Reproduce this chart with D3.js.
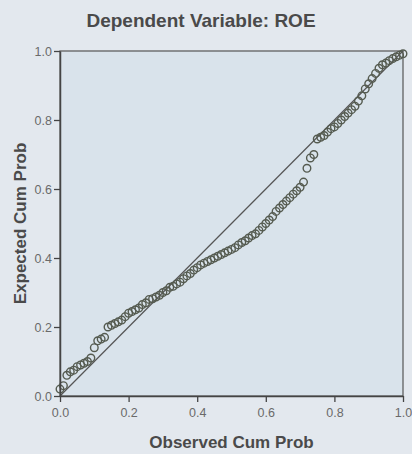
<!DOCTYPE html>
<html>
<head>
<meta charset="utf-8">
<script src="https://cdn.jsdelivr.net/npm/d3@7"></script>
<style>
    body { margin: 0; background: #e3e8ee; }
    svg { display: block; font-family: "Liberation Sans", Arial, sans-serif; }
</style>
</head>
<body>
<svg id="chart" width="412" height="454"></svg>
<script>
// P-P plot data
const observed = [
    0.00, 0.01, 0.02, 0.03, 0.04, 0.05, 0.06, 0.07, 0.08, 0.09,
    0.10, 0.11, 0.12, 0.13, 0.14, 0.15, 0.16, 0.17, 0.18, 0.19,
    0.20, 0.21, 0.22, 0.23, 0.24, 0.25, 0.26, 0.27, 0.28, 0.29,
    0.30, 0.31, 0.32, 0.33, 0.34, 0.35, 0.36, 0.37, 0.38, 0.39,
    0.40, 0.41, 0.42, 0.43, 0.44, 0.45, 0.46, 0.47, 0.48, 0.49,
    0.50, 0.51, 0.52, 0.53, 0.54, 0.55, 0.56, 0.57, 0.58, 0.59,
    0.60, 0.61, 0.62, 0.63, 0.64, 0.65, 0.66, 0.67, 0.68, 0.69,
    0.70, 0.71, 0.72, 0.73, 0.74, 0.75, 0.76, 0.77, 0.78, 0.79,
    0.80, 0.81, 0.82, 0.83, 0.84, 0.85, 0.86, 0.87, 0.88, 0.89,
    0.90, 0.91, 0.92, 0.93, 0.94, 0.95, 0.96, 0.97, 0.98, 0.99,
    1.00
];
const expected = [
    0.020, 0.030, 0.060, 0.070, 0.075, 0.085, 0.090, 0.095, 0.100, 0.110,
    0.140, 0.160, 0.165, 0.170, 0.200, 0.205, 0.210, 0.215, 0.220, 0.230,
    0.240, 0.245, 0.250, 0.255, 0.265, 0.270, 0.280, 0.282, 0.287, 0.292,
    0.300, 0.305, 0.315, 0.318, 0.325, 0.330, 0.340, 0.348, 0.355, 0.365,
    0.372, 0.380, 0.385, 0.390, 0.395, 0.400, 0.405, 0.410, 0.415, 0.420,
    0.425, 0.430, 0.438, 0.445, 0.450, 0.458, 0.465, 0.470, 0.480, 0.490,
    0.500, 0.510, 0.520, 0.535, 0.545, 0.555, 0.565, 0.575, 0.585, 0.595,
    0.605, 0.620, 0.660, 0.690, 0.700, 0.745, 0.750, 0.755, 0.765, 0.775,
    0.780, 0.790, 0.800, 0.810, 0.820, 0.830, 0.840, 0.855, 0.870, 0.890,
    0.905, 0.920, 0.935, 0.950, 0.960, 0.965, 0.972, 0.978, 0.983, 0.988,
    0.992
];
const tickValues = [0.0, 0.2, 0.4, 0.6, 0.8, 1.0];
const title = "Dependent Variable: ROE";
const xTitle = "Observed Cum Prob";
const yTitle = "Expected Cum Prob";

const points = observed.map((d, i) => ({x: d, y: expected[i]}));

const svg = d3.select("#chart");
const plotLeft = 60, plotRight = 403, plotTop = 51, plotBottom = 396;

const x = d3.scaleLinear().domain([0, 1]).range([plotLeft, plotRight]);
const y = d3.scaleLinear().domain([0, 1]).range([plotBottom, plotTop]);

// plot background + frame
svg.append("rect")
    .attr("x", plotLeft).attr("y", plotTop)
    .attr("width", plotRight - plotLeft).attr("height", plotBottom - plotTop)
    .attr("fill", "#d9e3eb")
    .attr("stroke", "#555")
    .attr("stroke-width", 1.2);

// reference diagonal
svg.append("line")
    .attr("x1", x(0)).attr("y1", y(0))
    .attr("x2", x(1)).attr("y2", y(1))
    .attr("stroke", "#555")
    .attr("stroke-width", 1.2);

// points
svg.append("g")
    .selectAll("circle")
    .data(points)
    .join("circle")
    .attr("cx", d => x(d.x))
    .attr("cy", d => y(d.y))
    .attr("r", 3.8)
    .attr("fill", "none")
    .attr("stroke", "#555b50")
    .attr("stroke-width", 1.4);

// axes
const xAxis = svg.append("g")
    .attr("transform", `translate(0,${plotBottom})`)
    .call(d3.axisBottom(x).tickValues(tickValues).tickFormat(d3.format(".1f"))
        .tickSize(6).tickSizeOuter(0).tickPadding(6));

const yAxis = svg.append("g")
    .attr("transform", `translate(${plotLeft},0)`)
    .call(d3.axisLeft(y).tickValues(tickValues).tickFormat(d3.format(".1f"))
        .tickSize(6).tickSizeOuter(0).tickPadding(2));

[xAxis, yAxis].forEach(g => {
    g.select(".domain").attr("stroke", "#444").attr("stroke-width", 1.5);
    g.selectAll(".tick line").attr("stroke", "#444").attr("stroke-width", 1.3);
    g.selectAll(".tick text")
        .attr("fill", "#6a6a6a")
        .style("font-size", "12.5px");
});

// titles
svg.append("text")
    .attr("x", 201).attr("y", 27)
    .attr("text-anchor", "middle")
    .attr("fill", "#4a4a4a")
    .style("font-size", "19px")
    .style("font-weight", "bold")
    .text(title);

svg.append("text")
    .attr("x", (plotLeft + plotRight) / 2).attr("y", 448)
    .attr("text-anchor", "middle")
    .attr("fill", "#4a4a4a")
    .style("font-size", "17px")
    .style("font-weight", "bold")
    .text(xTitle);

svg.append("text")
    .attr("transform", `translate(26,${(plotTop + plotBottom) / 2}) rotate(-90)`)
    .attr("text-anchor", "middle")
    .attr("fill", "#4a4a4a")
    .style("font-size", "17px")
    .style("font-weight", "bold")
    .text(yTitle);
</script>
</body>
</html>
